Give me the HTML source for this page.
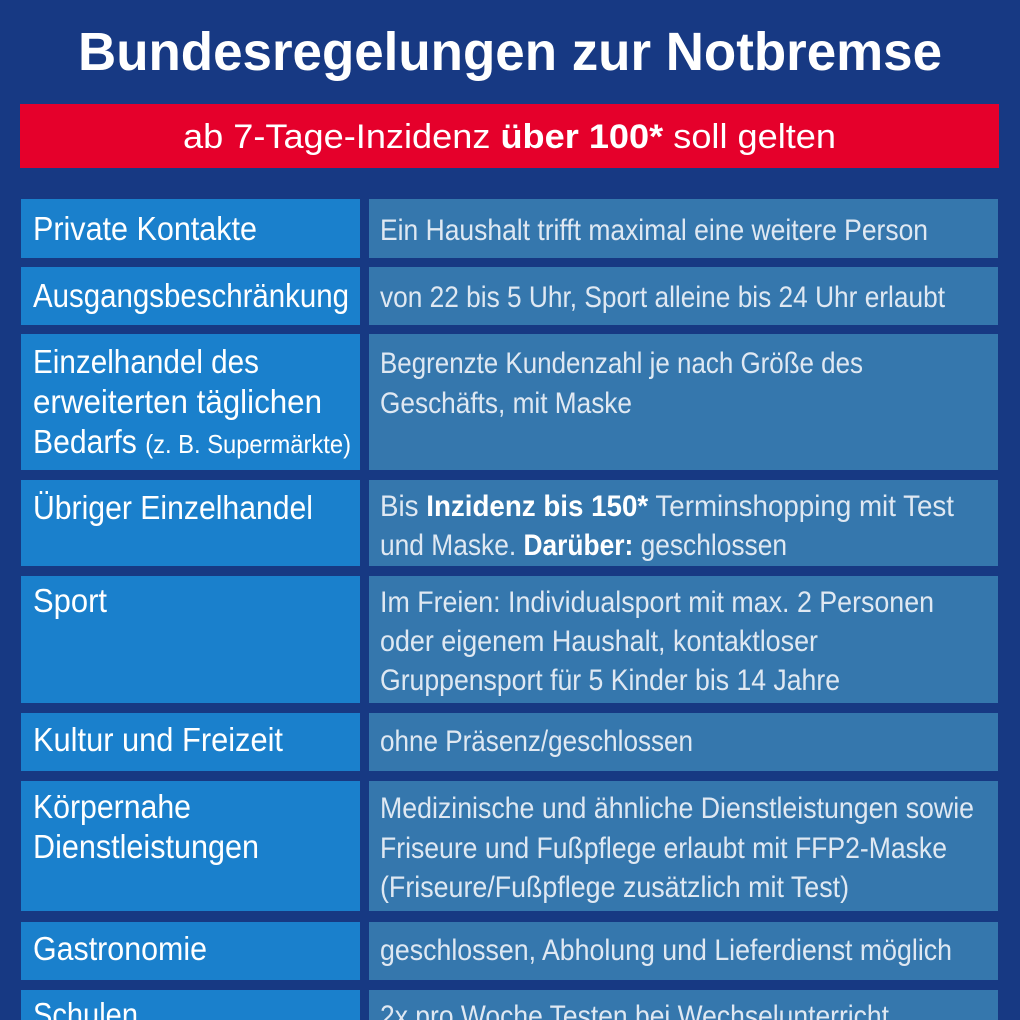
<!DOCTYPE html>
<html><head><meta charset="utf-8"><style>
html,body{margin:0;padding:0;background:#173983;}
svg{display:block}
text{font-family:"Liberation Sans","DejaVu Sans",sans-serif;}
.l{fill:#fff;font-size:33px;}
.r{fill:#dfe8f2;font-size:30px;}
</style></head><body>
<svg width="1020" height="1020" viewBox="0 0 1020 1020" xmlns="http://www.w3.org/2000/svg">
<rect width="1020" height="1020" fill="#173983"/>
<text x="78" y="70" textLength="864" lengthAdjust="spacingAndGlyphs" font-size="54" font-weight="bold" fill="#fff">Bundesregelungen zur Notbremse</text>
<rect x="20" y="104" width="979" height="64" fill="#e5002b"/>
<text x="183" y="148" textLength="653" lengthAdjust="spacingAndGlyphs" font-size="34" fill="#fff">ab 7-Tage-Inzidenz <tspan font-weight="bold">über 100*</tspan> soll gelten</text>
<g fill="#1a80cc">
<rect x="21" y="199" width="339" height="59"/>
<rect x="21" y="267" width="339" height="58"/>
<rect x="21" y="334" width="339" height="136"/>
<rect x="21" y="480" width="339" height="86"/>
<rect x="21" y="576" width="339" height="127"/>
<rect x="21" y="713" width="339" height="58"/>
<rect x="21" y="781" width="339" height="130"/>
<rect x="21" y="922" width="339" height="58"/>
<rect x="21" y="990" width="339" height="40"/>
</g>
<g fill="#3577ad">
<rect x="369" y="199" width="629" height="59"/>
<rect x="369" y="267" width="629" height="58"/>
<rect x="369" y="334" width="629" height="136"/>
<rect x="369" y="480" width="629" height="86"/>
<rect x="369" y="576" width="629" height="127"/>
<rect x="369" y="713" width="629" height="58"/>
<rect x="369" y="781" width="629" height="130"/>
<rect x="369" y="922" width="629" height="58"/>
<rect x="369" y="990" width="629" height="40"/>
</g>
<g>
<text class="l" x="33" y="240" textLength="224" lengthAdjust="spacingAndGlyphs">Private Kontakte</text>
<text class="l" x="33" y="307" textLength="316" lengthAdjust="spacingAndGlyphs">Ausgangsbeschränkung</text>
<text class="l" x="33" y="373" textLength="226" lengthAdjust="spacingAndGlyphs">Einzelhandel des</text>
<text class="l" x="33" y="413" textLength="289" lengthAdjust="spacingAndGlyphs">erweiterten täglichen</text>
<text class="l" x="33" y="453" textLength="318" lengthAdjust="spacingAndGlyphs">Bedarfs <tspan font-size="26">(z. B. Supermärkte)</tspan></text>
<text class="l" x="33" y="519" textLength="280" lengthAdjust="spacingAndGlyphs">Übriger Einzelhandel</text>
<text class="l" x="33" y="612" textLength="74" lengthAdjust="spacingAndGlyphs">Sport</text>
<text class="l" x="33" y="751" textLength="250" lengthAdjust="spacingAndGlyphs">Kultur und Freizeit</text>
<text class="l" x="33" y="818" textLength="158" lengthAdjust="spacingAndGlyphs">Körpernahe</text>
<text class="l" x="33" y="858" textLength="226" lengthAdjust="spacingAndGlyphs">Dienstleistungen</text>
<text class="l" x="33" y="960" textLength="174" lengthAdjust="spacingAndGlyphs">Gastronomie</text>
<text class="l" x="33" y="1026" textLength="105" lengthAdjust="spacingAndGlyphs">Schulen</text>
</g>
<g>
<text class="r" x="380" y="240" textLength="548" lengthAdjust="spacingAndGlyphs">Ein Haushalt trifft maximal eine weitere Person</text>
<text class="r" x="380" y="307" textLength="565" lengthAdjust="spacingAndGlyphs">von 22 bis 5 Uhr, Sport alleine bis 24 Uhr erlaubt</text>
<text class="r" x="380" y="373" textLength="483" lengthAdjust="spacingAndGlyphs">Begrenzte Kundenzahl je nach Größe des</text>
<text class="r" x="380" y="413" textLength="252" lengthAdjust="spacingAndGlyphs">Geschäfts, mit Maske</text>
<text class="r" x="380" y="516" textLength="574" lengthAdjust="spacingAndGlyphs">Bis <tspan font-weight="bold" fill="#fff">Inzidenz bis 150*</tspan> Terminshopping mit Test</text>
<text class="r" x="380" y="555" textLength="407" lengthAdjust="spacingAndGlyphs">und Maske. <tspan font-weight="bold" fill="#fff">Darüber:</tspan> geschlossen</text>
<text class="r" x="380" y="612" textLength="554" lengthAdjust="spacingAndGlyphs">Im Freien: Individualsport mit max. 2 Personen</text>
<text class="r" x="380" y="651" textLength="438" lengthAdjust="spacingAndGlyphs">oder eigenem Haushalt, kontaktloser</text>
<text class="r" x="380" y="690" textLength="460" lengthAdjust="spacingAndGlyphs">Gruppensport für 5 Kinder bis 14 Jahre</text>
<text class="r" x="380" y="751" textLength="313" lengthAdjust="spacingAndGlyphs">ohne Präsenz/geschlossen</text>
<text class="r" x="380" y="818" textLength="594" lengthAdjust="spacingAndGlyphs">Medizinische und ähnliche Dienstleistungen sowie</text>
<text class="r" x="380" y="858" textLength="567" lengthAdjust="spacingAndGlyphs">Friseure und Fußpflege erlaubt mit FFP2-Maske</text>
<text class="r" x="380" y="897" textLength="469" lengthAdjust="spacingAndGlyphs">(Friseure/Fußpflege zusätzlich mit Test)</text>
<text class="r" x="380" y="960" textLength="572" lengthAdjust="spacingAndGlyphs">geschlossen, Abholung und Lieferdienst möglich</text>
<text class="r" x="380" y="1026" textLength="509" lengthAdjust="spacingAndGlyphs">2x pro Woche Testen bei Wechselunterricht</text>
</g>
</svg>
</body></html>
